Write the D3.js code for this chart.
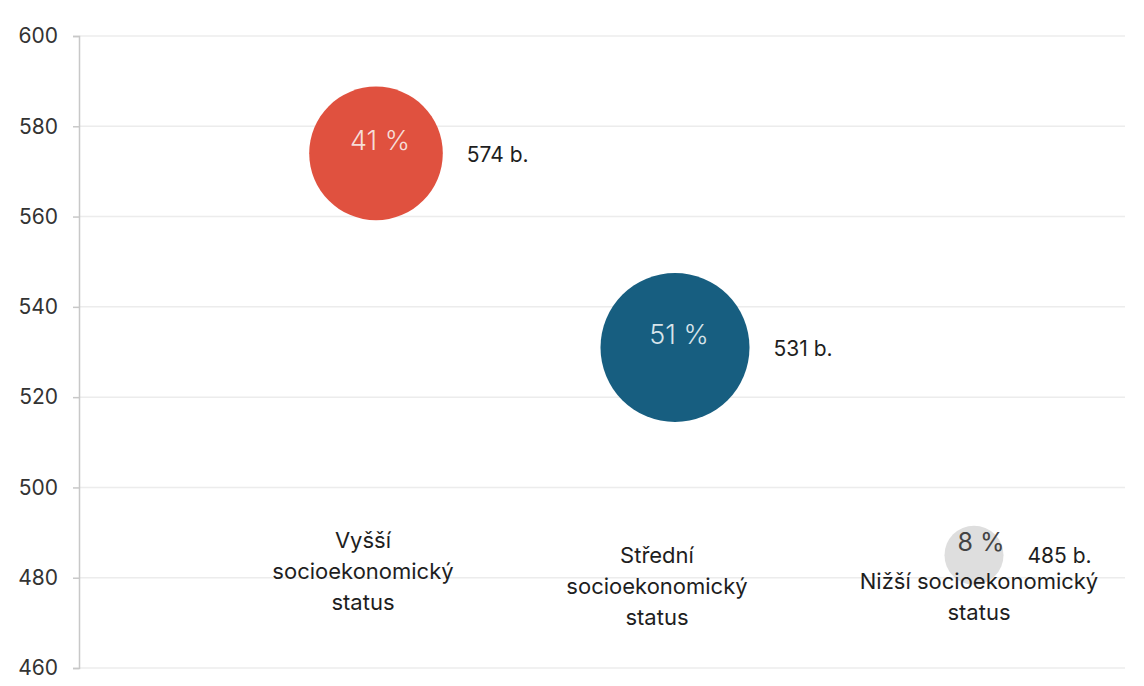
<!DOCTYPE html>
<html>
<head>
<meta charset="utf-8">
<script src="https://cdn.jsdelivr.net/npm/d3@7"></script>
<style>
  body { margin: 0; background: #fff; }
  text { font-family: Inter, "Noto Sans", sans-serif; }
</style>
</head>
<body>
<script>
// Data
const categories = ["Vyšší", "Střední", "Nižší"];
const scores = [574, 531, 485];
const shares = [41, 51, 8];
const categoryLabels = [
    ["Vyšší", "socioekonomický", "status"],
    ["Střední", "socioekonomický", "status"],
    ["Nižší socioekonomický", "status"]
];
const yTicks = [460, 480, 500, 520, 540, 560, 580, 600];

// Styling per category (layout only)
const colors = ["#e0513f", "#175e80", "#dedede"];
const pctColors = ["#f6ddd8", "#d8e4ea", "#444444"];
const labelDx = [-13, -18, 5];
const labelTop = [548, 563, 589];

const W = 1144, H = 686;
const svg = d3.select("body").append("svg")
    .attr("width", W)
    .attr("height", H);

// Scales
const y = d3.scaleLinear().domain([460, 600]).range([668, 36]);
const x = d3.scalePoint().domain(categories).range([376, 974]);
const r = d3.scaleSqrt().domain([0, 51]).range([0, 74.5]);

const axisX = 79, rightX = 1125;

// Gridlines
svg.append("g")
    .selectAll("line")
    .data(yTicks)
    .enter().append("line")
    .attr("x1", axisX)
    .attr("x2", rightX)
    .attr("y1", d => y(d))
    .attr("y2", d => y(d))
    .attr("stroke", "#ececec")
    .attr("stroke-width", 1.5);

// Y axis
const yAxis = svg.append("g")
    .attr("transform", `translate(${axisX},0)`)
    .call(d3.axisLeft(y).tickValues(yTicks).tickSize(6).tickPadding(15));
yAxis.select(".domain").attr("stroke", "#c8c8c8").attr("stroke-width", 1.5);
yAxis.selectAll(".tick line").attr("stroke", "#c8c8c8").attr("stroke-width", 1.5);
yAxis.selectAll(".tick text")
    .attr("fill", "#333")
    .style("font-size", "21px")
    .style("font-family", "Inter, sans-serif");

// Bubbles
const pts = categories.map((c, i) => ({ cat: c, score: scores[i], share: shares[i], i }));

svg.append("g")
    .selectAll("circle")
    .data(pts)
    .enter().append("circle")
    .attr("cx", d => x(d.cat))
    .attr("cy", d => y(d.score))
    .attr("r", d => r(d.share))
    .attr("fill", d => colors[d.i]);

// Percent labels inside bubbles
svg.append("g")
    .selectAll("text")
    .data(pts)
    .enter().append("text")
    .attr("x", d => x(d.cat) + (d.i === 2 ? 7 : 4))
    .attr("y", d => y(d.score) - 13)
    .attr("dy", "0.35em")
    .attr("text-anchor", "middle")
    .attr("fill", d => pctColors[d.i])
    .style("font-size", d => d.i === 2 ? "25px" : "27px")
    .style("font-weight", d => d.i === 2 ? 400 : 300)
    .text(d => d.share + " %");

// Score labels to the right
svg.append("g")
    .selectAll("text")
    .data(pts)
    .enter().append("text")
    .attr("x", d => x(d.cat) + r(d.share) + 24)
    .attr("y", d => y(d.score) + 1)
    .attr("dy", "0.35em")
    .attr("fill", "#1e1e1e")
    .style("font-size", "21px")
    .text(d => d.score + " b.");

// Category labels
const cl = svg.append("g")
    .selectAll("text")
    .data(pts)
    .enter().append("text")
    .attr("text-anchor", "middle")
    .attr("fill", "#1e1e1e")
    .style("font-size", "22px");

cl.each(function (d) {
    const t = d3.select(this);
    categoryLabels[d.i].forEach((line, k) => {
        t.append("tspan")
            .attr("x", x(d.cat) + labelDx[d.i])
            .attr("y", labelTop[d.i] + k * 31)
            .text(line);
    });
});
</script>
</body>
</html>
